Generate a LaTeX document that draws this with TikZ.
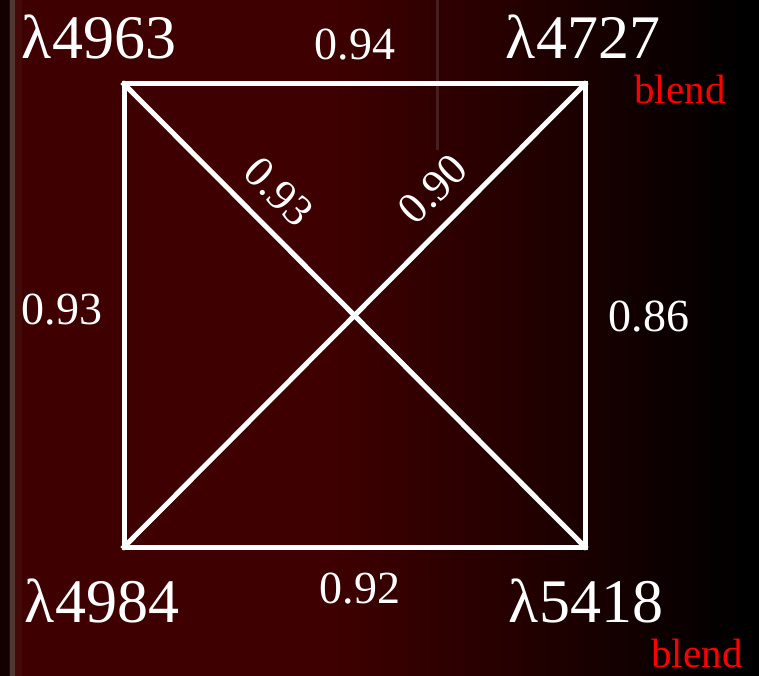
\documentclass[tikz,border=0pt]{standalone}
\usepackage{fontspec}
\setmainfont{Liberation Serif}
\newfontfamily\tnr{Liberation Serif}
\definecolor{bgred}{RGB}{62,0,0}
\definecolor{stripe}{RGB}{80,55,48}
\definecolor{blendred}{RGB}{255,0,0}
\pgfdeclarehorizontalshading{bgshade}{100bp}{color(0bp)=(bgred); color(47bp)=(bgred); color(60bp)=(bgred!55!black); color(74bp)=(black); color(100bp)=(black)}
\begin{document}
\begin{tikzpicture}[x=1pt,y=-1pt,
  edge/.style={draw=white,line width=5pt,line cap=rect},
  lam/.style={text=white,font=\tnr\fontsize{62}{64}\selectfont,inner sep=0pt},
  val/.style={text=white,font=\tnr\fontsize{46}{48}\selectfont,inner sep=0pt},
  dval/.style={text=white,font=\tnr\fontsize{44}{46}\selectfont,inner sep=0pt},
  blendlbl/.style={text=blendred,font=\tnr\fontsize{41}{43}\selectfont,inner sep=0pt}]
\useasboundingbox (0,0) rectangle (759,676);
\shade[shading=bgshade] (0,0) rectangle (759,676);
\fill[black!70!bgred] (0,0) rectangle (9,676);
\fill[stripe] (10,0) rectangle (15,676);
\fill[bgred!80!stripe] (15,0) rectangle (22,676);
\fill[white,opacity=0.12] (436,0) rectangle (439,150);
% corners
\coordinate (tl) at (124,84);
\coordinate (tr) at (585,84);
\coordinate (bl) at (124,547);
\coordinate (br) at (585,547);
\draw[edge] (tl) -- (tr) -- (br) -- (bl) -- cycle;
\draw[edge] (tl) -- (br);
\draw[edge] (tr) -- (bl);
% labels
\node[lam] (n1) at (99,37) {λ4963};
\node[lam] (n2) at (583,37) {λ4727};
\node[lam] (n3) at (102,601) {λ4984};
\node[lam] (n4) at (586,601) {λ5418};
\node[blendlbl] (b1) at (680,89) {blend};
\node[blendlbl] (b2) at (697,653) {blend};
\node[val] (v1) at (355,45) {0.94};
\node[val] (v2) at (62,310) {0.93};
\node[val] (v3) at (649,317) {0.86};
\node[val] (v4) at (360,589) {0.92};
\node[dval,rotate=-45] (v5) at (279,192) {0.93};
\node[dval,rotate=45] (v6) at (433,189) {0.90};
\end{tikzpicture}
\end{document}
